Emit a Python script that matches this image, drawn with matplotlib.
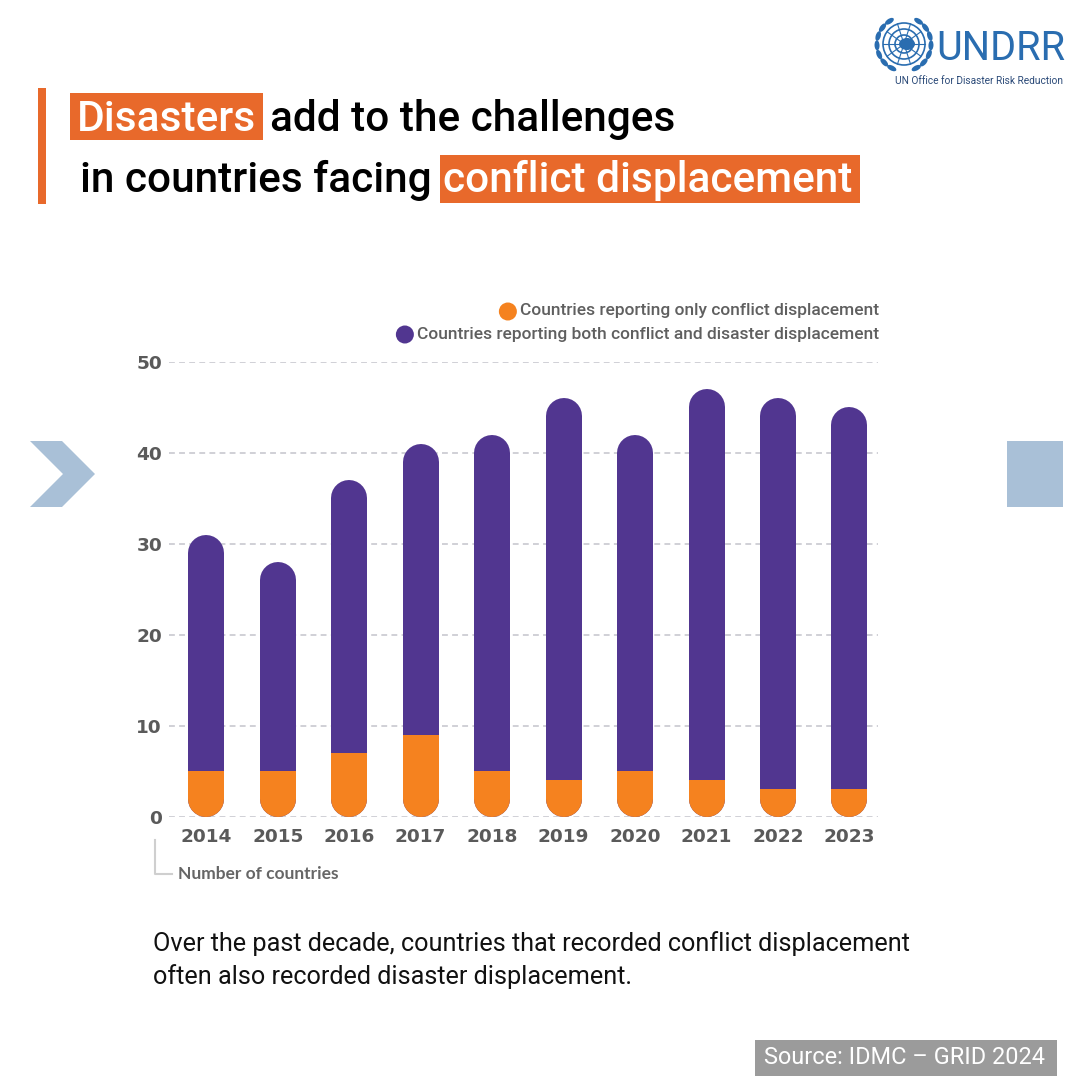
import numpy as np
import matplotlib.pyplot as plt
from matplotlib.patches import Rectangle, Polygon, Circle, Ellipse

# data
years = ['2014', '2015', '2016', '2017', '2018', '2019', '2020', '2021', '2022', '2023']
only_conflict = [5, 5, 7, 9, 5, 4, 5, 4, 3, 3]
both_conflict_disaster = [26, 23, 30, 32, 37, 42, 37, 43, 43, 42]
y_ticks = [0, 10, 20, 30, 40, 50]

ORANGE = '#F5821F'
PURPLE = '#513690'
HILITE = '#E8692B'
PALE = '#A9C0D7'
UNBLUE = '#2A6DB0'

W = H = 1080
DPI = 100
fig = plt.figure(figsize=(W / DPI, H / DPI), dpi=DPI)
fig.patch.set_facecolor('white')

# background axes in pixel coordinates (y down) for decorations and text
bg = fig.add_axes([0, 0, 1, 1])
bg.set_xlim(0, W)
bg.set_ylim(H, 0)
bg.axis('off')

# chart axes
ax_left, ax_right = 169, 878
ax_top, ax_bottom = 362, 816.7
ax = fig.add_axes([ax_left / W, 1 - ax_bottom / H,
                   (ax_right - ax_left) / W, (ax_bottom - ax_top) / H])
ax.set_facecolor('none')
ax.set_ylim(0, 50)
x = np.arange(len(years))
ax.set_xlim(-0.522, 9.40)

for s in ax.spines.values():
    s.set_visible(False)
ax.set_yticks(y_ticks)
ax.yaxis.grid(True, color='#d0d0d6', linestyle=(0, (3, 2.2)), linewidth=1.4)
ax.set_axisbelow(True)
ax.tick_params(axis='y', length=0, pad=5, labelsize=13.3, labelcolor='#5a5a5a')
ax.tick_params(axis='x', length=0, pad=8, labelsize=13.3, labelcolor='#5a5a5a')
ax.set_xticks(x)
ax.set_xticklabels(years)
for lab in ax.get_xticklabels() + ax.get_yticklabels():
    lab.set_fontfamily('DejaVu Sans')
    lab.set_fontweight('bold')

# rounded stacked bars
bar_px = 36
lw_pt = bar_px * 72 / DPI
px_per_unit = (ax_bottom - ax_top) / 50
r = (bar_px / 2) / px_per_unit
bar_w = bar_px / ((ax_right - ax_left) / (9.40 + 0.522))
for xi, o, b in zip(x, only_conflict, both_conflict_disaster):
    total = o + b
    ax.plot([xi, xi], [r, total - r], color=PURPLE, lw=lw_pt,
            solid_capstyle='round', zorder=3)
    ln, = ax.plot([xi, xi], [r, total - r], color=ORANGE, lw=lw_pt,
                  solid_capstyle='round', zorder=4)
    clip = Rectangle((xi - bar_w, -5), 2 * bar_w, o + 5, transform=ax.transData)
    ln.set_clip_path(clip)

# legend
leg_items = [('Countries reporting only conflict displacement', ORANGE, 311),
             ('Countries reporting both conflict and disaster displacement', PURPLE, 334)]
for label, col, yy in leg_items:
    t = bg.text(879, yy, label, ha='right', va='center', fontsize=12.5,
                family='Roboto', fontweight='medium', color='#5f5f5f')
    fig.canvas.draw()
    bb = t.get_window_extent()
    bg.add_patch(Circle((bb.x0 - 12, yy + 0.5), 9, color=col, lw=0))

# axis label with bracket
bg.plot([155, 155, 172], [840, 874, 874], color='#cfcfcf', lw=1.5)
bg.text(178, 874, 'Number of countries', ha='left', va='center', fontsize=12.5,
        family='Lato', fontweight='bold', color='#666666')

# title
bg.add_patch(Rectangle((38, 88), 8, 116, color=HILITE, lw=0))
bg.add_patch(Rectangle((70, 93), 193, 47, color=HILITE, lw=0))
bg.add_patch(Rectangle((440, 155), 420, 48, color=HILITE, lw=0))
tkw = dict(fontsize=30.5, family='Roboto', fontweight='medium', va='baseline')
bg.text(77, 131, 'Disasters', color='white', **tkw)
bg.text(270, 131, 'add to the challenges', color='black', **tkw)
bg.text(80, 192, 'in countries facing', color='black', **tkw)
bg.text(443, 192, 'conflict displacement', color='white', **tkw)

# caption
bg.text(153, 944, 'Over the past decade, countries that recorded conflict displacement',
        fontsize=18.2, family='Roboto', va='center', color='#111111')
bg.text(153, 977, 'often also recorded disaster displacement.',
        fontsize=18.2, family='Roboto', va='center', color='#111111')

# source box
bg.add_patch(Rectangle((755, 1040), 302, 36, color='#9b9b9b', lw=0))
bg.text(764, 1058, 'Source: IDMC \u2013 GRID 2024', fontsize=16.9, family='Roboto',
        color='white', va='center', ha='left')

# side decorations
bg.add_patch(Polygon([(30, 441), (62, 441), (95, 474), (62, 507), (30, 507), (63, 474)],
                     closed=True, color=PALE, lw=0))
bg.add_patch(Rectangle((1007, 441), 56, 66, color=PALE, lw=0))

# UNDRR logo
cx, cy = 904, 44
for rad in (21, 15, 9):
    bg.add_patch(Circle((cx, cy), rad, fill=False, ec=UNBLUE, lw=1.2))
for ang in np.linspace(0, np.pi, 5, endpoint=False):
    bg.plot([cx - 21 * np.cos(ang), cx + 21 * np.cos(ang)],
            [cy - 21 * np.sin(ang), cy + 21 * np.sin(ang)], color=UNBLUE, lw=0.8)
bg.add_patch(Ellipse((cx + 3, cy), 16, 12, color=UNBLUE, lw=0))
for side in (-1, 1):
    for k, a in enumerate(np.linspace(-1.0, 1.1, 7)):
        ex = cx + side * 27 * np.cos(a)
        ey = cy + 27 * np.sin(a)
        bg.add_patch(Ellipse((ex, ey), 5, 10, angle=np.degrees(a) * side,
                             color=UNBLUE, lw=0))
bg.text(936, 49, 'UNDRR', fontsize=28.5, family='Roboto', color=UNBLUE,
        va='center', ha='left')
bg.text(1063, 81, 'UN Office for Disaster Risk Reduction', fontsize=7.3,
        family='Roboto', color='#2b4a78', va='center', ha='right')

fig.savefig('out.png', dpi=DPI, facecolor='white')
